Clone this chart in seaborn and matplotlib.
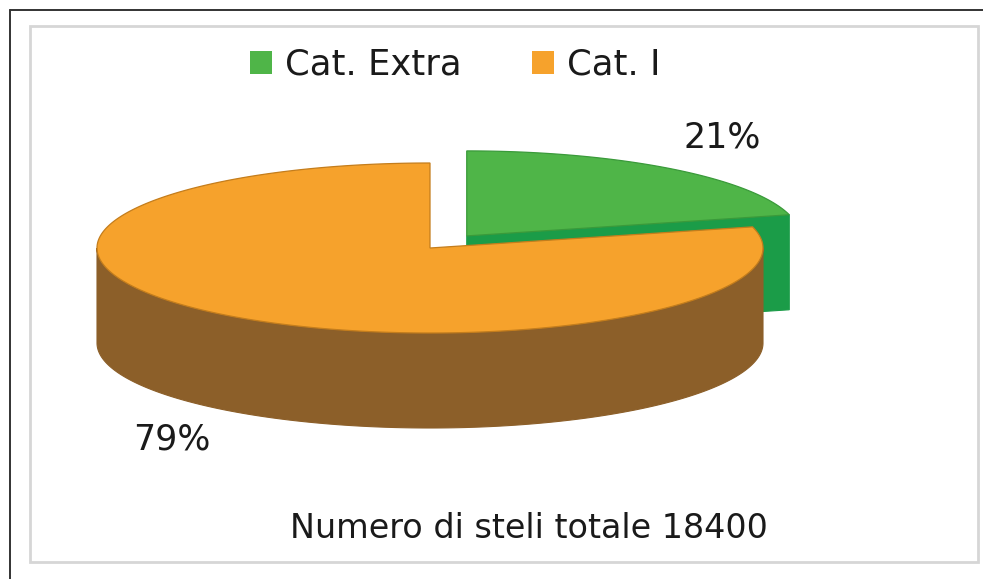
import numpy as np
import matplotlib
matplotlib.use("Agg")
import matplotlib.pyplot as plt
from matplotlib.patches import Polygon, Rectangle, Patch
from matplotlib.lines import Line2D
import seaborn as sns

# ---- data -------------------------------------------------------------
categories = ["Cat. Extra", "Cat. I"]
shares = [21, 79]                      # percent of stems per category
total_stems = 18400
footer_text = f"Numero di steli totale {total_stems}"

# ---- style ------------------------------------------------------------
sns.set_theme(style="white")
plt.rcParams["font.family"] = ["DejaVu Sans"]

top_colors = sns.color_palette(["#4fb548", "#f6a22c"])
side_colors = sns.color_palette(["#1b9c48", "#8c5f29"])
edge_colors = sns.color_palette(["#3a9a3a", "#c47d1c"])

W, H = 983, 579
fig = plt.figure(figsize=(W / 100, H / 100), dpi=100)
fig.patch.set_facecolor("white")
ax = fig.add_axes([0, 0, 1, 1])
ax.set_xlim(0, W)
ax.set_ylim(H, 0)
ax.axis("off")

# pie layout (screen units, y grows downward)
cx, cy = 430, 248          # centre of the top face
rx, ry = 333, 85           # tilted ellipse radii
depth = 95                 # thickness of the disc
explode = [0.18, 0.0]
start_angle = 90           # first slice starts at 12 o'clock, clockwise


def rim_pts(c, angles):
    a = np.radians(angles)
    return np.column_stack([c[0] + rx * np.cos(a), c[1] - ry * np.sin(a)])


fractions = np.array(shares, dtype=float) / np.sum(shares)
bounds = start_angle - 360 * np.concatenate([[0], np.cumsum(fractions)])

slices = []
for i, frac in enumerate(fractions):
    hi, lo = bounds[i], bounds[i + 1]          # slice spans [lo, hi] ccw
    mid = np.radians((hi + lo) / 2)
    c = (cx + explode[i] * rx * np.cos(mid), cy - explode[i] * ry * np.sin(mid))
    slices.append((i, lo, hi, c, np.sin(mid)))

# paint the slices from back to front
for i, lo, hi, c, s in sorted(slices, key=lambda t: -t[4]):
    cdown = (c[0], c[1] + depth)
    # outer wall on the front half of the disc
    for k in range(-2, 3):
        f0, f1 = -180 + 360 * k, 0 + 360 * k
        a0, a1 = max(lo, f0), min(hi, f1)
        if a1 > a0:
            arc = np.linspace(a0, a1, 200)
            upper = rim_pts(c, arc)
            lower = rim_pts(cdown, arc[::-1])
            ax.add_patch(Polygon(np.vstack([upper, lower]), closed=True,
                                 facecolor=side_colors[i], edgecolor=side_colors[i],
                                 lw=0.8, zorder=2))
    # radial cut faces that turn toward the viewer
    for ang, visible in ((lo, np.cos(np.radians(lo)) > 1e-6),
                         (hi, np.cos(np.radians(hi)) < -1e-6)):
        if visible:
            p = rim_pts(c, [ang])[0]
            quad = [c, p, (p[0], p[1] + depth), cdown]
            ax.add_patch(Polygon(quad, closed=True, facecolor=side_colors[i],
                                 edgecolor=side_colors[i], lw=0.8, zorder=2))
    # top face
    arc = np.linspace(lo, hi, 400)
    top = np.vstack([[c], rim_pts(c, arc)])
    ax.add_patch(Polygon(top, closed=True, facecolor=top_colors[i],
                         edgecolor=edge_colors[i], lw=0.9, zorder=3))

# percentage labels
label_pos = [(722, 138), (172, 440)]
for (x, y), v in zip(label_pos, shares):
    ax.text(x, y, f"{v}%", ha="center", va="center", fontsize=25,
            color="#1a1a1a", zorder=5)

ax.text(529, 528, footer_text, ha="center", va="center", fontsize=24,
        color="#1a1a1a", zorder=5)

# legend
handles = [Patch(facecolor=top_colors[i], edgecolor="none", label=categories[i])
           for i in range(len(categories))]
fig.legend(handles=handles, loc="center", bbox_to_anchor=(455 / W, 1 - 65 / H),
           ncol=2, frameon=False, fontsize=25.5, handlelength=0.63,
           handleheight=0.63, handletextpad=0.35, columnspacing=2.0,
           labelcolor="#1a1a1a")

# chart frames
fig.add_artist(Rectangle((30 / W, 1 - 562 / H), 948 / W, 536 / H,
                         transform=fig.transFigure, fill=False,
                         edgecolor="#d6d6d6", lw=2.0))
fig.add_artist(Line2D([10 / W, 1], [1 - 10 / H, 1 - 10 / H],
                      transform=fig.transFigure, color="#333333", lw=1.4))
fig.add_artist(Line2D([10 / W, 10 / W], [0, 1 - 10 / H],
                      transform=fig.transFigure, color="#333333", lw=1.4))

fig.savefig("out.png", dpi=100, facecolor="white")
